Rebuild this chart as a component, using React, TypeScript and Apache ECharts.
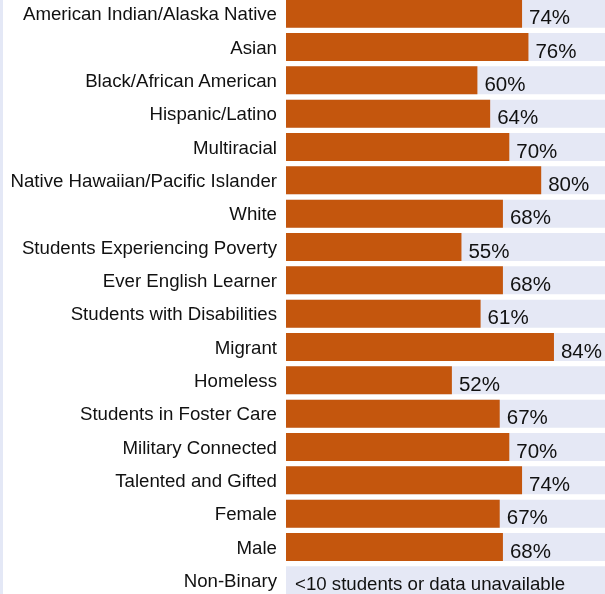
import React, { useEffect, useRef } from "react";
import * as echarts from "echarts";

const categories: string[] = [
  "American Indian/Alaska Native",
  "Asian",
  "Black/African American",
  "Hispanic/Latino",
  "Multiracial",
  "Native Hawaiian/Pacific Islander",
  "White",
  "Students Experiencing Poverty",
  "Ever English Learner",
  "Students with Disabilities",
  "Migrant",
  "Homeless",
  "Students in Foster Care",
  "Military Connected",
  "Talented and Gifted",
  "Female",
  "Male",
  "Non-Binary",
];

const values: (number | null)[] = [74, 76, 60, 64, 70, 80, 68, 55, 68, 61, 84, 52, 67, 70, 74, 67, 68, null];

const backgroundValues: number[] = categories.map(() => 100);

const unavailableText = "<10 students or data unavailable";

const FONT = "Arial, 'Liberation Sans', sans-serif";
const TEXT = "#111111";

export default function App() {
  const ref = useRef<HTMLDivElement>(null);

  useEffect(() => {
    if (!ref.current) return;
    const chart = echarts.init(ref.current, undefined, { renderer: "svg" });
    chart.setOption({
      animation: false,
      grid: { left: 286, right: 0, top: 0, bottom: 0, containLabel: false },
      xAxis: { type: "value", min: 0, max: 100, show: false },
      yAxis: {
        type: "category",
        data: categories,
        inverse: true,
        axisLine: { show: false },
        axisTick: { show: false },
        splitLine: { show: false },
        axisLabel: {
          fontSize: 18.67,
          color: TEXT,
          fontFamily: FONT,
          margin: 9,
        },
      },
      graphic: [
        {
          type: "rect",
          left: 0,
          top: 0,
          shape: { width: 3, height: 600 },
          style: { fill: "#E4E8F6" },
          silent: true,
        },
      ],
      series: [
        {
          type: "bar",
          data: backgroundValues.map((v, i) => ({
            value: v,
            label:
              values[i] === null
                ? {
                    show: true,
                    position: "insideLeft",
                    distance: 9,
                    offset: [0, 3],
                    formatter: unavailableText,
                    fontSize: 18.67,
                    color: TEXT,
                    fontFamily: FONT,
                  }
                : { show: false },
          })),
          barWidth: 28,
          itemStyle: { color: "#E5E8F5" },
          silent: true,
          z: 1,
        },
        {
          type: "bar",
          data: values,
          barWidth: 28,
          barGap: "-100%",
          itemStyle: { color: "#C4560D" },
          label: {
            show: true,
            position: "right",
            distance: 7,
            offset: [0, 3],
            formatter: (p: any) => (p.value == null ? "" : `${p.value}%`),
            fontSize: 20.5,
            color: TEXT,
            fontFamily: FONT,
          },
          z: 2,
        },
      ],
    });
    return () => chart.dispose();
  }, []);

  return (
    <div
      ref={ref}
      style={{ position: "fixed", left: 0, top: -3, width: 605, height: 600 }}
    />
  );
}
